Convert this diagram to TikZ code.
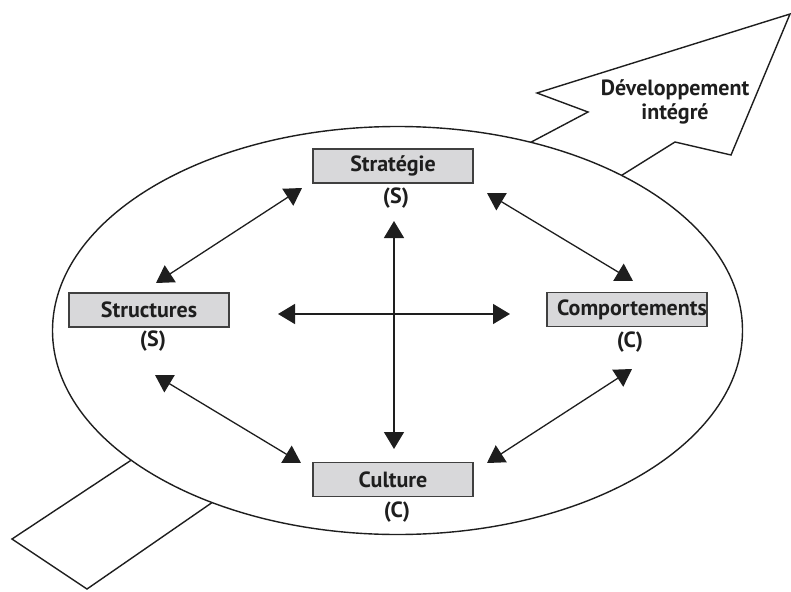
\documentclass[tikz,border=0pt]{standalone}
\usepackage{fontspec}
\setmainfont{PT Sans}
\usetikzlibrary{arrows.meta}
\definecolor{boxgray}{HTML}{D8D8DA}
\definecolor{ink}{HTML}{1E1E1E}
\tikzset{
  outline/.style={draw=ink, line width=1.4pt, line join=miter},
  boxframe/.style={draw=ink!85, fill=boxgray, line width=1.3pt,
    minimum width=160pt, minimum height=34pt, inner sep=0pt},
  boxtext/.style={font=\bfseries\fontsize{22}{26}\selectfont, text=ink, inner sep=0pt},
  tag/.style={font=\bfseries\fontsize{22}{26}\selectfont, text=ink, inner sep=0pt},
  link/.style={draw=ink, line width=1.3pt, {Triangle[length=17pt,width=20pt]}-{Triangle[length=17pt,width=20pt]}}
}
\begin{document}
\begin{tikzpicture}[x=1pt,y=-1pt]
\useasboundingbox (0,0) rectangle (791,591);

% big arrow passing behind the ellipse: tail and head
\draw[outline] (142,453) -- (12,539) -- (87,589) -- (223,495);
\draw[outline] (520,148) -- (588,112) -- (537,93) -- (790,14)
  -- (731,155) -- (675,142) -- (611,182);
\node[tag, align=center] (dev) at (675,102) {Développement\\[-2pt]intégré};

% the ellipse
\draw[outline, fill=white] (397.5,330.5) ellipse [x radius=345, y radius=204];

% the four elements
\node[boxframe] (strat) at (393,166) {};
\node[boxtext] (strattxt) at (strat) {Stratégie};
\node[tag] (stratS) at (396,198) {(S)};

\node[boxframe] (struc) at (149,310) {};
\node[boxtext] (structxt) at (struc) {Structures};
\node[tag] (strucS) at (153,341) {(S)};

\node[boxframe] (comp) at (627,309.5) {};
\node[boxtext] (comptxt) at (632,309.5) {Comportements};
\node[tag] (compC) at (630,342) {(C)};

\node[boxframe] (cult) at (393,479.5) {};
\node[boxtext] (culttxt) at (cult) {Culture};
\node[tag] (cultC) at (397,512) {(C)};

% arrow end points
\coordinate (vt) at (394,221);
\coordinate (vb) at (394,449);
\coordinate (hl) at (278,314);
\coordinate (hr) at (510,314);
\coordinate (tlA) at (302,188);
\coordinate (tlB) at (156,283);
\coordinate (trA) at (487,193);
\coordinate (trB) at (633,281);
\coordinate (blA) at (155,375);
\coordinate (blB) at (301,463);
\coordinate (brA) at (632,369);
\coordinate (brB) at (487,463);

% relations
\draw[link] (vt) -- (vb);
\draw[link] (hl) -- (hr);
\draw[link] (tlA) -- (tlB);
\draw[link] (trA) -- (trB);
\draw[link] (blA) -- (blB);
\draw[link] (brA) -- (brB);
\end{tikzpicture}
\end{document}
